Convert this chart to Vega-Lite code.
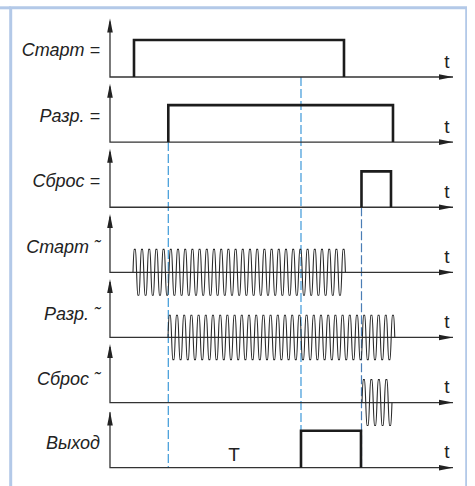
{
"$schema": "https://vega.github.io/schema/vega-lite/v6.json",
"width": 456, "height": 481,
"autosize": {"type": "none"},
"padding": {"left": 10.7, "top": 7.8, "right": 0, "bottom": 0},
"background": "white",
"config": {"view": {"stroke": "#b3c9e8", "strokeWidth": 3}},
"datasets": {
"stub": [{"sig":"s1","t":-11.5,"v":1.87},{"sig":"s1","t":-9.93,"v":1.87}],
"dash": [
{"id":"d1","sig":"s2","t":5.83,"v":0},{"id":"d1","sig":"s7","t":5.83,"v":0},
{"id":"d2","sig":"s1","t":19.1,"v":0},{"id":"d2","sig":"s7","t":19.1,"v":0},
{"id":"d3","sig":"s3","t":25.15,"v":0},{"id":"d3","sig":"s7","t":25.15,"v":0}],
"axes": [
{"sig":"s1","i":0,"t":0,"v":1.5},{"sig":"s1","i":1,"t":0,"v":0},{"sig":"s1","i":2,"t":34.3,"v":0},
{"sig":"s2","i":0,"t":0,"v":1.5},{"sig":"s2","i":1,"t":0,"v":0},{"sig":"s2","i":2,"t":34.3,"v":0},
{"sig":"s3","i":0,"t":0,"v":1.5},{"sig":"s3","i":1,"t":0,"v":0},{"sig":"s3","i":2,"t":34.3,"v":0},
{"sig":"s4","i":0,"t":0,"v":1.5},{"sig":"s4","i":1,"t":0,"v":0},{"sig":"s4","i":2,"t":34.3,"v":0},
{"sig":"s5","i":0,"t":0,"v":1.5},{"sig":"s5","i":1,"t":0,"v":0},{"sig":"s5","i":2,"t":34.3,"v":0},
{"sig":"s6","i":0,"t":0,"v":1.5},{"sig":"s6","i":1,"t":0,"v":0},{"sig":"s6","i":2,"t":34.3,"v":0},
{"sig":"s7","i":0,"t":0,"v":1.5},{"sig":"s7","i":1,"t":0,"v":0},{"sig":"s7","i":2,"t":34.3,"v":0}],
"arrows": [
{"sig":"s1","dir":"up","t":0,"v":1.58},{"sig":"s2","dir":"up","t":0,"v":1.58},{"sig":"s3","dir":"up","t":0,"v":1.58},
{"sig":"s4","dir":"up","t":0,"v":1.58},{"sig":"s5","dir":"up","t":0,"v":1.58},{"sig":"s6","dir":"up","t":0,"v":1.58},
{"sig":"s7","dir":"up","t":0,"v":1.52},
{"sig":"s1","dir":"right","t":34.3,"v":0},{"sig":"s2","dir":"right","t":34.3,"v":0},{"sig":"s3","dir":"right","t":34.3,"v":0},
{"sig":"s4","dir":"right","t":34.3,"v":0},{"sig":"s5","dir":"right","t":34.3,"v":0},{"sig":"s6","dir":"right","t":34.3,"v":0},
{"sig":"s7","dir":"right","t":34.3,"v":0}],
"pulses": [
{"sig":"s1","i":0,"t":2.4,"v":0},{"sig":"s1","i":1,"t":2.4,"v":1},{"sig":"s1","i":2,"t":23.4,"v":1},{"sig":"s1","i":3,"t":23.4,"v":0},
{"sig":"s2","i":0,"t":5.83,"v":0},{"sig":"s2","i":1,"t":5.83,"v":1},{"sig":"s2","i":2,"t":28.3,"v":1},{"sig":"s2","i":3,"t":28.3,"v":0},
{"sig":"s3","i":0,"t":25.15,"v":0},{"sig":"s3","i":1,"t":25.15,"v":0.97},{"sig":"s3","i":2,"t":28.1,"v":0.97},{"sig":"s3","i":3,"t":28.1,"v":0},
{"sig":"s7","i":0,"t":19.1,"v":0},{"sig":"s7","i":1,"t":19.1,"v":1},{"sig":"s7","i":2,"t":25.1,"v":1},{"sig":"s7","i":3,"t":25.1,"v":0}],
"waves": [
{"sig":"s4","t":2.3,"v":0},
{"sig":"s4","t":2.41,"v":0.62},{"sig":"s4","t":2.55,"v":0.62},{"sig":"s4","t":2.77,"v":-0.62},{"sig":"s4","t":2.91,"v":-0.62},
{"sig":"s4","t":3.13,"v":0.62},{"sig":"s4","t":3.27,"v":0.62},{"sig":"s4","t":3.49,"v":-0.62},{"sig":"s4","t":3.63,"v":-0.62},
{"sig":"s4","t":3.85,"v":0.62},{"sig":"s4","t":3.99,"v":0.62},{"sig":"s4","t":4.21,"v":-0.62},{"sig":"s4","t":4.35,"v":-0.62},
{"sig":"s4","t":4.57,"v":0.62},{"sig":"s4","t":4.71,"v":0.62},{"sig":"s4","t":4.93,"v":-0.62},{"sig":"s4","t":5.07,"v":-0.62},
{"sig":"s4","t":5.29,"v":0.62},{"sig":"s4","t":5.43,"v":0.62},{"sig":"s4","t":5.65,"v":-0.62},{"sig":"s4","t":5.79,"v":-0.62},
{"sig":"s4","t":6.01,"v":0.62},{"sig":"s4","t":6.15,"v":0.62},{"sig":"s4","t":6.37,"v":-0.62},{"sig":"s4","t":6.51,"v":-0.62},
{"sig":"s4","t":6.73,"v":0.62},{"sig":"s4","t":6.87,"v":0.62},{"sig":"s4","t":7.09,"v":-0.62},{"sig":"s4","t":7.23,"v":-0.62},
{"sig":"s4","t":7.45,"v":0.62},{"sig":"s4","t":7.59,"v":0.62},{"sig":"s4","t":7.81,"v":-0.62},{"sig":"s4","t":7.95,"v":-0.62},
{"sig":"s4","t":8.17,"v":0.62},{"sig":"s4","t":8.31,"v":0.62},{"sig":"s4","t":8.53,"v":-0.62},{"sig":"s4","t":8.67,"v":-0.62},
{"sig":"s4","t":8.89,"v":0.62},{"sig":"s4","t":9.03,"v":0.62},{"sig":"s4","t":9.25,"v":-0.62},{"sig":"s4","t":9.39,"v":-0.62},
{"sig":"s4","t":9.61,"v":0.62},{"sig":"s4","t":9.75,"v":0.62},{"sig":"s4","t":9.97,"v":-0.62},{"sig":"s4","t":10.11,"v":-0.62},
{"sig":"s4","t":10.33,"v":0.62},{"sig":"s4","t":10.47,"v":0.62},{"sig":"s4","t":10.69,"v":-0.62},{"sig":"s4","t":10.83,"v":-0.62},
{"sig":"s4","t":11.05,"v":0.62},{"sig":"s4","t":11.19,"v":0.62},{"sig":"s4","t":11.41,"v":-0.62},{"sig":"s4","t":11.55,"v":-0.62},
{"sig":"s4","t":11.77,"v":0.62},{"sig":"s4","t":11.91,"v":0.62},{"sig":"s4","t":12.13,"v":-0.62},{"sig":"s4","t":12.27,"v":-0.62},
{"sig":"s4","t":12.49,"v":0.62},{"sig":"s4","t":12.63,"v":0.62},{"sig":"s4","t":12.85,"v":-0.62},{"sig":"s4","t":12.99,"v":-0.62},
{"sig":"s4","t":13.21,"v":0.62},{"sig":"s4","t":13.35,"v":0.62},{"sig":"s4","t":13.57,"v":-0.62},{"sig":"s4","t":13.71,"v":-0.62},
{"sig":"s4","t":13.93,"v":0.62},{"sig":"s4","t":14.07,"v":0.62},{"sig":"s4","t":14.29,"v":-0.62},{"sig":"s4","t":14.43,"v":-0.62},
{"sig":"s4","t":14.65,"v":0.62},{"sig":"s4","t":14.79,"v":0.62},{"sig":"s4","t":15.01,"v":-0.62},{"sig":"s4","t":15.15,"v":-0.62},
{"sig":"s4","t":15.37,"v":0.62},{"sig":"s4","t":15.51,"v":0.62},{"sig":"s4","t":15.73,"v":-0.62},{"sig":"s4","t":15.87,"v":-0.62},
{"sig":"s4","t":16.09,"v":0.62},{"sig":"s4","t":16.23,"v":0.62},{"sig":"s4","t":16.45,"v":-0.62},{"sig":"s4","t":16.59,"v":-0.62},
{"sig":"s4","t":16.81,"v":0.62},{"sig":"s4","t":16.95,"v":0.62},{"sig":"s4","t":17.17,"v":-0.62},{"sig":"s4","t":17.31,"v":-0.62},
{"sig":"s4","t":17.53,"v":0.62},{"sig":"s4","t":17.67,"v":0.62},{"sig":"s4","t":17.89,"v":-0.62},{"sig":"s4","t":18.03,"v":-0.62},
{"sig":"s4","t":18.25,"v":0.62},{"sig":"s4","t":18.39,"v":0.62},{"sig":"s4","t":18.61,"v":-0.62},{"sig":"s4","t":18.75,"v":-0.62},
{"sig":"s4","t":18.97,"v":0.62},{"sig":"s4","t":19.11,"v":0.62},{"sig":"s4","t":19.33,"v":-0.62},{"sig":"s4","t":19.47,"v":-0.62},
{"sig":"s4","t":19.69,"v":0.62},{"sig":"s4","t":19.83,"v":0.62},{"sig":"s4","t":20.05,"v":-0.62},{"sig":"s4","t":20.19,"v":-0.62},
{"sig":"s4","t":20.41,"v":0.62},{"sig":"s4","t":20.55,"v":0.62},{"sig":"s4","t":20.77,"v":-0.62},{"sig":"s4","t":20.91,"v":-0.62},
{"sig":"s4","t":21.13,"v":0.62},{"sig":"s4","t":21.27,"v":0.62},{"sig":"s4","t":21.49,"v":-0.62},{"sig":"s4","t":21.63,"v":-0.62},
{"sig":"s4","t":21.85,"v":0.62},{"sig":"s4","t":21.99,"v":0.62},{"sig":"s4","t":22.21,"v":-0.62},{"sig":"s4","t":22.35,"v":-0.62},
{"sig":"s4","t":22.57,"v":0.62},{"sig":"s4","t":22.71,"v":0.62},{"sig":"s4","t":22.93,"v":-0.62},{"sig":"s4","t":23.07,"v":-0.62},
{"sig":"s4","t":23.29,"v":0.62},{"sig":"s4","t":23.43,"v":0.62},{"sig":"s4","t":23.54,"v":0},
{"sig":"s5","t":5.8,"v":0},
{"sig":"s5","t":5.91,"v":0.6},{"sig":"s5","t":6.05,"v":0.6},{"sig":"s5","t":6.27,"v":-0.6},{"sig":"s5","t":6.41,"v":-0.6},
{"sig":"s5","t":6.63,"v":0.6},{"sig":"s5","t":6.77,"v":0.6},{"sig":"s5","t":6.99,"v":-0.6},{"sig":"s5","t":7.13,"v":-0.6},
{"sig":"s5","t":7.35,"v":0.6},{"sig":"s5","t":7.49,"v":0.6},{"sig":"s5","t":7.71,"v":-0.6},{"sig":"s5","t":7.85,"v":-0.6},
{"sig":"s5","t":8.07,"v":0.6},{"sig":"s5","t":8.21,"v":0.6},{"sig":"s5","t":8.43,"v":-0.6},{"sig":"s5","t":8.57,"v":-0.6},
{"sig":"s5","t":8.79,"v":0.6},{"sig":"s5","t":8.93,"v":0.6},{"sig":"s5","t":9.15,"v":-0.6},{"sig":"s5","t":9.29,"v":-0.6},
{"sig":"s5","t":9.51,"v":0.6},{"sig":"s5","t":9.65,"v":0.6},{"sig":"s5","t":9.87,"v":-0.6},{"sig":"s5","t":10.01,"v":-0.6},
{"sig":"s5","t":10.23,"v":0.6},{"sig":"s5","t":10.37,"v":0.6},{"sig":"s5","t":10.59,"v":-0.6},{"sig":"s5","t":10.73,"v":-0.6},
{"sig":"s5","t":10.95,"v":0.6},{"sig":"s5","t":11.09,"v":0.6},{"sig":"s5","t":11.31,"v":-0.6},{"sig":"s5","t":11.45,"v":-0.6},
{"sig":"s5","t":11.67,"v":0.6},{"sig":"s5","t":11.81,"v":0.6},{"sig":"s5","t":12.03,"v":-0.6},{"sig":"s5","t":12.17,"v":-0.6},
{"sig":"s5","t":12.39,"v":0.6},{"sig":"s5","t":12.53,"v":0.6},{"sig":"s5","t":12.75,"v":-0.6},{"sig":"s5","t":12.89,"v":-0.6},
{"sig":"s5","t":13.11,"v":0.6},{"sig":"s5","t":13.25,"v":0.6},{"sig":"s5","t":13.47,"v":-0.6},{"sig":"s5","t":13.61,"v":-0.6},
{"sig":"s5","t":13.83,"v":0.6},{"sig":"s5","t":13.97,"v":0.6},{"sig":"s5","t":14.19,"v":-0.6},{"sig":"s5","t":14.33,"v":-0.6},
{"sig":"s5","t":14.55,"v":0.6},{"sig":"s5","t":14.69,"v":0.6},{"sig":"s5","t":14.91,"v":-0.6},{"sig":"s5","t":15.05,"v":-0.6},
{"sig":"s5","t":15.27,"v":0.6},{"sig":"s5","t":15.41,"v":0.6},{"sig":"s5","t":15.63,"v":-0.6},{"sig":"s5","t":15.77,"v":-0.6},
{"sig":"s5","t":15.99,"v":0.6},{"sig":"s5","t":16.13,"v":0.6},{"sig":"s5","t":16.35,"v":-0.6},{"sig":"s5","t":16.49,"v":-0.6},
{"sig":"s5","t":16.71,"v":0.6},{"sig":"s5","t":16.85,"v":0.6},{"sig":"s5","t":17.07,"v":-0.6},{"sig":"s5","t":17.21,"v":-0.6},
{"sig":"s5","t":17.43,"v":0.6},{"sig":"s5","t":17.57,"v":0.6},{"sig":"s5","t":17.79,"v":-0.6},{"sig":"s5","t":17.93,"v":-0.6},
{"sig":"s5","t":18.15,"v":0.6},{"sig":"s5","t":18.29,"v":0.6},{"sig":"s5","t":18.51,"v":-0.6},{"sig":"s5","t":18.65,"v":-0.6},
{"sig":"s5","t":18.87,"v":0.6},{"sig":"s5","t":19.01,"v":0.6},{"sig":"s5","t":19.23,"v":-0.6},{"sig":"s5","t":19.37,"v":-0.6},
{"sig":"s5","t":19.59,"v":0.6},{"sig":"s5","t":19.73,"v":0.6},{"sig":"s5","t":19.95,"v":-0.6},{"sig":"s5","t":20.09,"v":-0.6},
{"sig":"s5","t":20.31,"v":0.6},{"sig":"s5","t":20.45,"v":0.6},{"sig":"s5","t":20.67,"v":-0.6},{"sig":"s5","t":20.81,"v":-0.6},
{"sig":"s5","t":21.03,"v":0.6},{"sig":"s5","t":21.17,"v":0.6},{"sig":"s5","t":21.39,"v":-0.6},{"sig":"s5","t":21.53,"v":-0.6},
{"sig":"s5","t":21.75,"v":0.6},{"sig":"s5","t":21.89,"v":0.6},{"sig":"s5","t":22.11,"v":-0.6},{"sig":"s5","t":22.25,"v":-0.6},
{"sig":"s5","t":22.47,"v":0.6},{"sig":"s5","t":22.61,"v":0.6},{"sig":"s5","t":22.83,"v":-0.6},{"sig":"s5","t":22.97,"v":-0.6},
{"sig":"s5","t":23.19,"v":0.6},{"sig":"s5","t":23.33,"v":0.6},{"sig":"s5","t":23.55,"v":-0.6},{"sig":"s5","t":23.69,"v":-0.6},
{"sig":"s5","t":23.91,"v":0.6},{"sig":"s5","t":24.05,"v":0.6},{"sig":"s5","t":24.27,"v":-0.6},{"sig":"s5","t":24.41,"v":-0.6},
{"sig":"s5","t":24.63,"v":0.6},{"sig":"s5","t":24.77,"v":0.6},{"sig":"s5","t":24.99,"v":-0.6},{"sig":"s5","t":25.13,"v":-0.6},
{"sig":"s5","t":25.35,"v":0.6},{"sig":"s5","t":25.49,"v":0.6},{"sig":"s5","t":25.71,"v":-0.6},{"sig":"s5","t":25.85,"v":-0.6},
{"sig":"s5","t":26.07,"v":0.6},{"sig":"s5","t":26.21,"v":0.6},{"sig":"s5","t":26.43,"v":-0.6},{"sig":"s5","t":26.57,"v":-0.6},
{"sig":"s5","t":26.79,"v":0.6},{"sig":"s5","t":26.93,"v":0.6},{"sig":"s5","t":27.15,"v":-0.6},{"sig":"s5","t":27.29,"v":-0.6},
{"sig":"s5","t":27.51,"v":0.6},{"sig":"s5","t":27.65,"v":0.6},{"sig":"s5","t":27.87,"v":-0.6},{"sig":"s5","t":28.01,"v":-0.6},
{"sig":"s5","t":28.23,"v":0.6},{"sig":"s5","t":28.37,"v":0.6},{"sig":"s5","t":28.48,"v":0},
{"sig":"s6","t":25.2,"v":0},
{"sig":"s6","t":25.32,"v":0.62},{"sig":"s6","t":25.46,"v":0.62},{"sig":"s6","t":25.69,"v":-0.62},{"sig":"s6","t":25.83,"v":-0.62},
{"sig":"s6","t":26.07,"v":0.62},{"sig":"s6","t":26.21,"v":0.62},{"sig":"s6","t":26.44,"v":-0.62},{"sig":"s6","t":26.58,"v":-0.62},
{"sig":"s6","t":26.82,"v":0.62},{"sig":"s6","t":26.96,"v":0.62},{"sig":"s6","t":27.19,"v":-0.62},{"sig":"s6","t":27.33,"v":-0.62},
{"sig":"s6","t":27.57,"v":0.62},{"sig":"s6","t":27.71,"v":0.62},{"sig":"s6","t":27.94,"v":-0.62},{"sig":"s6","t":28.08,"v":-0.62},
{"sig":"s6","t":28.2,"v":0}],
"labels": [
{"sig":"s1","text":"Старт =","t":-1.0,"v":0.7},
{"sig":"s2","text":"Разр. =","t":-1.0,"v":0.68},
{"sig":"s3","text":"Сброс =","t":-1.0,"v":0.68},
{"sig":"s4","text":"Старт ˜","t":-1.0,"v":0.67},
{"sig":"s5","text":"Разр. ˜","t":-1.0,"v":0.62},
{"sig":"s6","text":"Сброс ˜","t":-1.0,"v":0.6},
{"sig":"s7","text":"Выход","t":-1.0,"v":0.64}],
"tl": [
{"sig":"s1","text":"t","t":33.7,"v":0.25},{"sig":"s2","text":"t","t":33.7,"v":0.25},{"sig":"s3","text":"t","t":33.7,"v":0.25},
{"sig":"s4","text":"t","t":33.7,"v":0.25},{"sig":"s5","text":"t","t":33.7,"v":0.25},{"sig":"s6","text":"t","t":33.7,"v":0.25},
{"sig":"s7","text":"t","t":33.7,"v":0.25},{"sig":"s7","text":"T","t":12.4,"v":0.19}]
},
"encoding": {
"x": {"field":"t","type":"quantitative","scale":{"domain":[-9.93,35.67],"nice":false,"zero":false},"axis":null},
"y": {"field":"sig","type":"nominal","sort":["s1","s2","s3","s4","s5","s6","s7"],"scale":{"domain":["s1","s2","s3","s4","s5","s6","s7"],"range":[4.1,459.9],"paddingInner":0,"paddingOuter":0},"axis":null},
"yOffset": {"field":"v","type":"quantitative","scale":{"domain":[0,1],"range":[65.1,28.1],"nice":false,"zero":false}}
},
"layer": [
{"data":{"name":"stub"},"mark":{"type":"line","color":"#b3c9e8","strokeWidth":3},"encoding":{}},
{"data":{"name":"dash"},"mark":{"type":"line","strokeDash":[9,3],"strokeWidth":1.2},"encoding":{"detail":{"field":"id"},"color":{"field":"id","type":"nominal","scale":{"domain":["d1","d2","d3"],"range":["#3d99d9","#3d99d9","#4a7db5"]},"legend":null}}},
{"data":{"name":"axes"},"mark":{"type":"line","color":"#333333","strokeWidth":1.3},"encoding":{"detail":{"field":"sig"},"order":{"field":"i","type":"quantitative"}}},
{"data":{"name":"waves"},"mark":{"type":"line","color":"#2a2a2a","strokeWidth":1.1,"interpolate":"monotone"},"encoding":{"detail":{"field":"sig"},"order":{"field":"t","type":"quantitative"}}},
{"data":{"name":"pulses"},"mark":{"type":"line","color":"#1c1c1c","strokeWidth":2.6},"encoding":{"detail":{"field":"sig"},"order":{"field":"i","type":"quantitative"}}},
{"data":{"name":"arrows"},"mark":{"type":"point","filled":true,"opacity":1,"color":"#222222","size":196,"strokeWidth":0},"encoding":{"shape":{"field":"dir","type":"nominal","scale":{"domain":["up","right"],"range":["M0,0L0.4,2L-0.4,2Z","M0,0L-2,-0.4L-2,0.4Z"]},"legend":null}}},
{"data":{"name":"labels"},"mark":{"type":"text","align":"right","baseline":"middle","fontStyle":"italic","font":"Liberation Sans","fontSize":18,"color":"#222222"},"encoding":{"text":{"field":"text"}}},
{"data":{"name":"tl"},"mark":{"type":"text","align":"center","baseline":"alphabetic","font":"Liberation Sans","fontSize":19,"color":"#222222"},"encoding":{"text":{"field":"text"}}}
]
}
